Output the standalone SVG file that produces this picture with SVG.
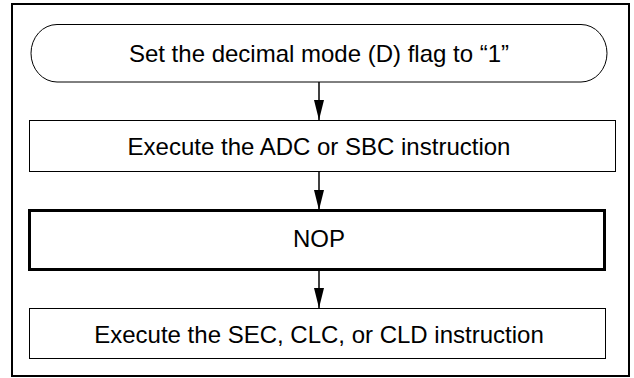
<svg xmlns="http://www.w3.org/2000/svg" width="634" height="378" viewBox="0 0 634 378">
<style>
.box{fill:#fff;stroke:#000;stroke-width:1}
.thick{fill:#fff;stroke:#000;stroke-width:3}
.t{font-family:"Liberation Sans",Arial,sans-serif;font-size:24px;fill:#000;text-anchor:middle}
.c{stroke:#000;stroke-width:1.5;fill:none}
</style>
<defs>
<marker id="ah" markerWidth="20" markerHeight="10" refX="20" refY="5" orient="auto" markerUnits="userSpaceOnUse" viewBox="0 0 20 10">
<path d="M0,0 L20,5 L0,10 Z" fill="#000"/>
</marker>
</defs>
<rect x="12" y="4" width="617" height="372" fill="#fff" stroke="#000" stroke-width="2"/>
<g id="connectors">
<line class="c" x1="319" y1="82" x2="319" y2="120" marker-end="url(#ah)"/>
<line class="c" x1="319" y1="172" x2="319" y2="210" marker-end="url(#ah)"/>
<line class="c" x1="319" y1="270" x2="319" y2="308" marker-end="url(#ah)"/>
</g>
<g id="n1">
<rect class="box" x="31" y="24.5" width="576" height="57.5" rx="26" ry="29"/>
<text class="t" x="319" y="62">Set the decimal mode (D) flag to “1”</text>
</g>
<g id="n2">
<rect class="box" x="29.5" y="120.5" width="586" height="51"/>
<text class="t" x="319" y="155">Execute the ADC or SBC instruction</text>
</g>
<g id="n3">
<rect class="thick" x="29.5" y="210.5" width="575" height="59"/>
<text class="t" x="319" y="247">NOP</text>
</g>
<g id="n4">
<rect class="box" x="29.5" y="308.5" width="576" height="50"/>
<text class="t" x="319" y="343">Execute the SEC, CLC, or CLD instruction</text>
</g>
</svg>
